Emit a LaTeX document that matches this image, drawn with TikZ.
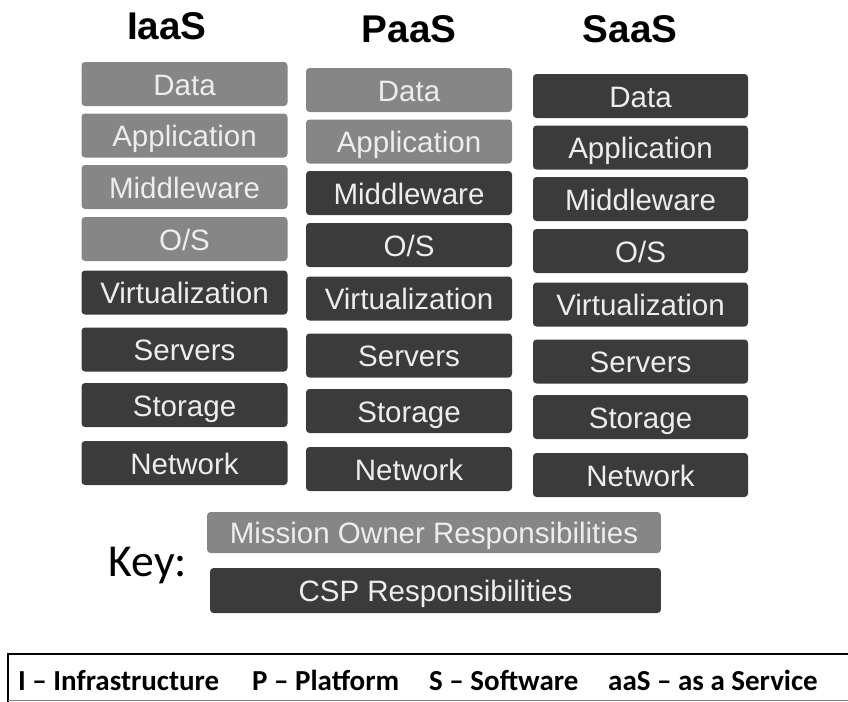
\documentclass[tikz,border=0pt]{standalone}
\usepackage{fontspec}
\setmainfont{Liberation Sans}
\newfontfamily\keyfont{Carlito}
\definecolor{layerlight}{HTML}{868686}
\definecolor{layerdark}{HTML}{3B3B3B}
\definecolor{layertext}{HTML}{EDEDED}
\tikzset{
    layer/.style={rectangle, rounded corners=2pt, text=layertext, minimum height=0.88cm,
        inner sep=0pt, text height=13.5pt, text depth=0.5pt, font=\fontsize{16.8}{20}\selectfont},
    title/.style={font=\bfseries\fontsize{22}{26}\selectfont},
    legend/.style={font=\keyfont\bfseries\fontsize{16.5}{20}\selectfont, anchor=base west}
}
\begin{document}
\begin{tikzpicture}[x=0.02cm, y=-0.02cm]
        \useasboundingbox (0, 0) rectangle (848, 701);
        \clip (0, 0) rectangle (848, 701);
        \node[title] (iaas) at (167, 26) {IaaS};
        \node[title] (paas) at (409, 29) {PaaS};
        \node[title] (saas) at (630, 29) {SaaS};
        \foreach \col/\cx/\dy/\nl/\w in {iaas/184.5/0/4/206, paas/409/6/2/206, saas/640.5/12/0/215}
            \foreach \cy/\lbl [count=\r] in {84/Data, 135.5/Application, 187/Middleware, 239/{O/S},
                    292.5/Virtualization, 349.5/Servers, 405/Storage, 463/Network} {
                \ifnum\r>\nl \def\fillcol{layerdark}\else \def\fillcol{layerlight}\fi
                \node[layer, fill=\fillcol, minimum width=\w*0.02cm] (\col-\r) at (\cx, \cy+\dy) {\lbl};
            }
        \node[font=\keyfont\fontsize{26}{30}\selectfont] (key) at (148, 566) {Key:};
        \node[layer, fill=layerlight, minimum width=9.08cm, minimum height=0.82cm] (owner) at (434, 532.5)
            {Mission Owner Responsibilities};
        \node[layer, fill=layerdark, minimum width=9.02cm, minimum height=0.9cm] (csp) at (435.5, 590.5)
            {CSP Responsibilities};
        \draw[line width=1.4pt] (870, 654) -- (8, 654) -- (8, 712);
        \draw[very thin, color=gray] (8, 700) -- (870, 700);
        \node[legend] (infra) at (12, 690) {I – Infrastructure};
        \node[legend] (platform) at (246, 690) {P – Platform};
        \node[legend] (software) at (423, 690) {S – Software};
        \node[legend] (service) at (602, 690) {aaS – as a Service};
    \end{tikzpicture}
\end{document}
